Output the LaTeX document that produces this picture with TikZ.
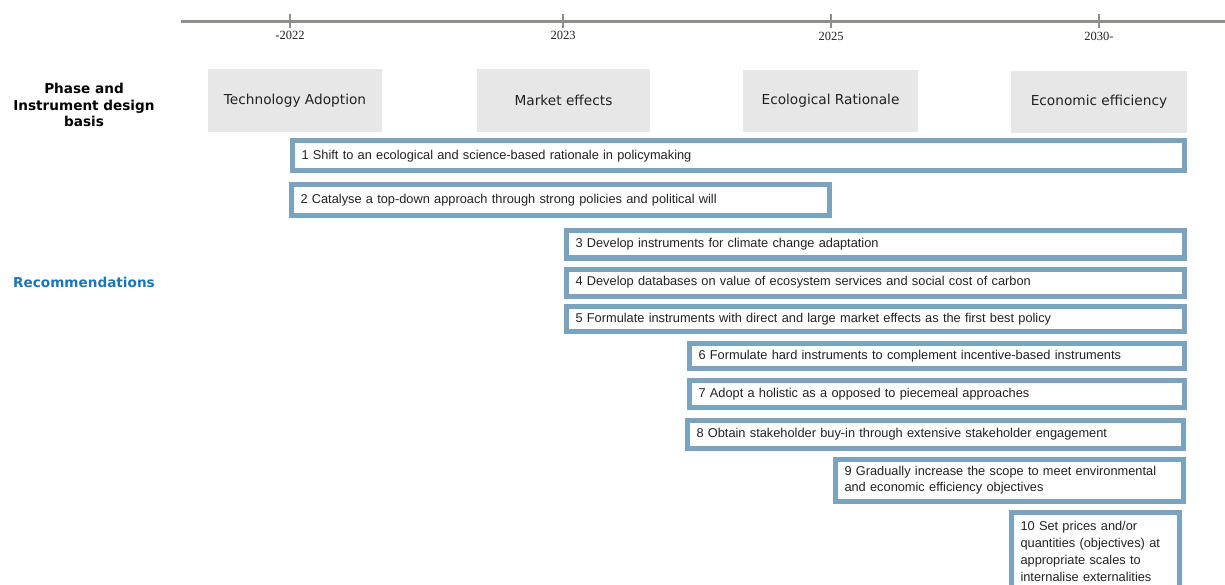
\documentclass[tikz,border=0pt]{standalone}
\usepackage{fontspec}
\setmainfont{Liberation Sans}
\newfontfamily\verdanaf{DejaVu Sans}
\newfontfamily\timesf{Liberation Serif}
\definecolor{axisgray}{HTML}{8F8F8A}
\definecolor{phasegray}{HTML}{E7E7E7}
\definecolor{recblue}{HTML}{7AA3BF}
\definecolor{headblue}{HTML}{1B75BB}
\definecolor{txt}{HTML}{222222}
\begin{document}
\begin{tikzpicture}[x=1pt,y=-1pt,
  axisline/.style={draw=axisgray, line width=3pt},
  tickline/.style={draw=axisgray, line width=1.5pt},
  yearlbl/.style={font=\timesf\fontsize{12.5}{14}\selectfont, text=txt, inner sep=0pt},
  phase/.style={fill=phasegray, draw=none, font=\verdanaf\fontsize{13.7}{16}\selectfont, text=txt, inner sep=0pt},
  headlbl/.style={font=\verdanaf\bfseries\fontsize{13.6}{16.5}\selectfont, align=center, inner sep=0pt},
  rec/.style={draw=recblue, line width=5pt, fill=white, anchor=west, inner xsep=9pt, inner ysep=2pt,
    align=left, text=txt, font=\fontsize{12.8}{16.5}\selectfont}
]
\useasboundingbox (0,0) rectangle (1225,585);

% timeline
\coordinate (tlS) at (181,22);
\coordinate (tlE) at (1225,22);
\draw[axisline] (tlS) -- (tlE);
\foreach \x/\n in {290/a,563/b,831/c,1099/d}{
  \coordinate (t\n top) at (\x,14);
  \coordinate (t\n bot) at (\x,28);
  \draw[tickline] (t\n top) -- (t\n bot);
}
\node[yearlbl] (ya) at (290,35) {-2022};
\node[yearlbl] (yb) at (563,35) {2023};
\node[yearlbl] (yc) at (831,36) {2025};
\node[yearlbl] (yd) at (1099,36) {2030-};

% left headings
\node[headlbl] (phasehead) at (84,105) {Phase and\\Instrument design\\basis};
\node[headlbl, text=headblue] (recshead) at (84,282) {Recommendations};

% phase boxes
\node[phase, minimum width=174pt, minimum height=63pt] (p1) at (295,100.5) {Technology Adoption};
\node[phase, minimum width=173pt, minimum height=63pt] (p2) at (563.5,100.5) {Market effects};
\node[phase, minimum width=175pt, minimum height=62pt] (p3) at (830.5,101) {Ecological Rationale};
\node[phase, minimum width=176pt, minimum height=62pt] (p4) at (1099,102) {Economic efficiency};

% recommendations
\node[rec, text width=874pt, minimum height=30pt] (r1) at (290,156) {1 Shift to an ecological and science-based rationale in policymaking};
\node[rec, text width=520pt, minimum height=31pt] (r2) at (289,200) {2 Catalyse a top-down approach through strong policies and political will};
\node[rec, text width=600pt, minimum height=27pt] (r3) at (564,244.5) {3 Develop instruments for climate change adaptation};
\node[rec, text width=600pt, minimum height=27pt] (r4) at (564,282.5) {4 Develop databases on value of ecosystem services and social cost of carbon};
\node[rec, text width=600pt, minimum height=25pt] (r5) at (564,319) {5 Formulate instruments with direct and large market effects as the first best policy};
\node[rec, text width=477pt, minimum height=25pt] (r6) at (687,356) {6 Formulate hard instruments to complement incentive-based instruments};
\node[rec, text width=477pt, minimum height=27pt] (r7) at (687,394) {7 Adopt a holistic as a opposed to piecemeal approaches};
\node[rec, text width=478pt, minimum height=28pt] (r8) at (685,434) {8 Obtain stakeholder buy-in through extensive stakeholder engagement};
\node[rec, text width=330pt, minimum height=42pt] (r9) at (833,480) {9 Gradually increase the scope to meet environmental\\and economic efficiency objectives};
\node[rec, text width=150pt, minimum height=78pt, font=\fontsize{12.8}{17}\selectfont] (r10) at (1009,551) {10 Set prices and/or\\quantities (objectives) at\\appropriate scales to\\internalise externalities};
\end{tikzpicture}
\end{document}
